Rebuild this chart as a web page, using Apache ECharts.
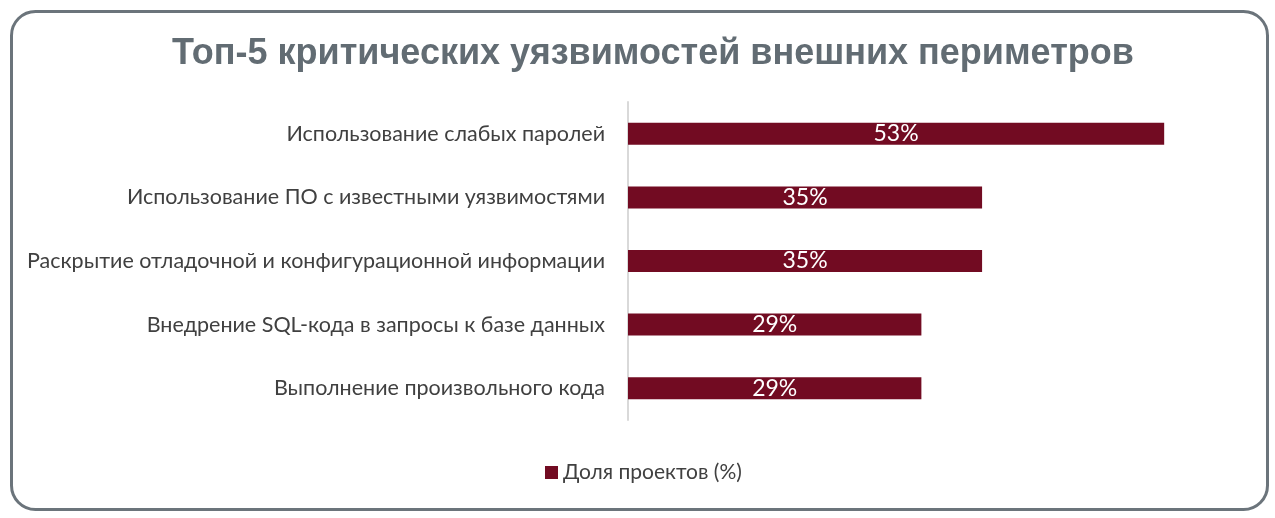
<!DOCTYPE html>
<html><head><meta charset="utf-8">
<script src="https://cdn.jsdelivr.net/npm/echarts@6/dist/echarts.min.js"></script>
<style>html,body{margin:0;padding:0;background:#fff}#c{width:1275px;height:518px}</style>
</head><body><div id="c"></div>
<script>
const titleText = 'Топ-5 критических уязвимостей внешних периметров';
const categories = [
  'Использование слабых паролей',
  'Использование ПО с известными уязвимостями',
  'Раскрытие отладочной и конфигурационной информации',
  'Внедрение SQL-кода в запросы к базе данных',
  'Выполнение произвольного кода'
];
const seriesName = 'Доля проектов (%)';
const values = [53, 35, 35, 29, 29];

const chart = echarts.init(document.getElementById('c'));
chart.setOption({
  animation: false,
  backgroundColor: '#fff',
  graphic: [{
    type: 'rect', left: 9, top: 9,
    shape: {width: 1256, height: 498, r: 24},
    style: {fill: 'none', stroke: '#6b747b', lineWidth: 3}
  }],
  title: {
    text: titleText, left: 648, textAlign: 'center', top: 31,
    textStyle: {fontFamily: 'Liberation Sans, Arial', fontWeight: 'bold', fontSize: 36, color: '#626c73'}
  },
  legend: {
    data: [seriesName], left: 540, top: 457, itemWidth: 13, itemHeight: 13, itemGap: 4,
    icon: 'rect',
    textStyle: {fontFamily: 'Lato', fontSize: 21, color: '#404040'}
  },
  grid: {left: 628, top: 102, width: 607, height: 318, containLabel: false},
  xAxis: {type: 'value', min: 0, max: 60, show: false},
  yAxis: {
    type: 'category', data: categories, inverse: true,
    axisLine: {lineStyle: {color: '#d9d9d9', width: 2}},
    axisTick: {show: false},
    axisLabel: {margin: 23, fontFamily: 'Lato', fontSize: 21.5, color: '#404040'}
  },
  series: [{
    name: seriesName, type: 'bar', data: values, barWidth: 22,
    itemStyle: {color: '#720b22'},
    label: {show: true, position: 'inside', formatter: '{c}%', color: '#fff', fontFamily: 'Lato', fontSize: 23}
  }]
});
</script></body></html>
